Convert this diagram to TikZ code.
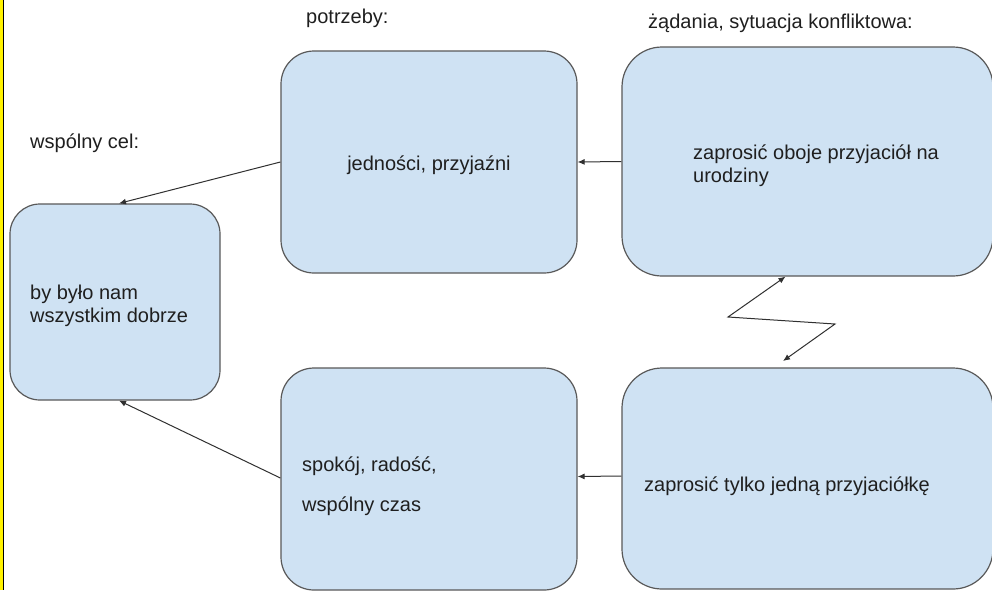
\documentclass[tikz,border=0pt]{standalone}
\usepackage{fontspec}
\setmainfont{Liberation Sans}
\usetikzlibrary{arrows.meta}
\definecolor{boxfill}{HTML}{CFE2F3}
\definecolor{boxline}{HTML}{595959}
\definecolor{inkline}{HTML}{303030}
\definecolor{ink}{HTML}{1F1F1F}
\tikzset{
  card/.style={draw=boxline, line width=1.2pt, fill=boxfill, rounded corners=#1,
    rectangle, inner sep=0pt},
  card/.default=32pt,
  label/.style={inner sep=0pt, text=ink, font=\fontsize{20}{23}\selectfont},
  link/.style={draw=inkline, line width=1pt, -{Latex[length=7pt,width=6pt]}},
  bolt/.style={draw=inkline, line width=1pt, {Latex[length=7pt,width=6pt]}-{Latex[length=7pt,width=6pt]}},
}
\begin{document}
\begin{tikzpicture}[x=1pt, y=-1pt]
  \useasboundingbox (0,0) rectangle (992,590);
  \fill[white] (0,0) rectangle (992,590);
  % left margin rule
  \fill[yellow] (0,0) rectangle (2.5,590);
  \draw[black, line width=1pt] (3,0) -- (3,590);

  % boxes
  \node[card=30pt, minimum width=210pt, minimum height=196pt] (goal) at (115,302) {};
  \node[card=33pt, minimum width=296pt, minimum height=222pt] (needA) at (429,162) {};
  \node[card=40pt, minimum width=371pt, minimum height=229pt] (wantA) at (807.5,161.5) {};
  \node[card=33pt, minimum width=296pt, minimum height=222pt] (needB) at (429,479) {};
  \node[card=40pt, minimum width=371pt, minimum height=221pt] (wantB) at (807.5,478.5) {};

  % headings
  \node[label, anchor=base west] (hNeed) at (306,23) {potrzeby:};
  \node[label, anchor=base west] (hWant) at (648,28) {żądania, sytuacja konfliktowa:};
  \node[label, anchor=base west] (hGoal) at (30,148) {wspólny cel:};

  % box texts
  \node[label, anchor=base] (tNeedA) at (429,170) {jedności, przyjaźni};
  \node[label, anchor=base west] (tWantA1) at (693,159) {zaprosić oboje przyjaciół na};
  \node[label, anchor=base west] (tWantA2) at (693,182) {urodziny};
  \node[label, anchor=base west] (tGoal1) at (30,299) {by było nam};
  \node[label, anchor=base west] (tGoal2) at (30,322) {wszystkim dobrze};
  \node[label, anchor=base west] (tNeedB1) at (302,471) {spokój, radość,};
  \node[label, anchor=base west] (tNeedB2) at (302,511) {wspólny czas};
  \node[label, anchor=base west] (tWantB) at (644,491) {zaprosić tylko jedną przyjaciółkę};

  % connectors
  \draw[link] (needA.west) -- ([xshift=4pt]goal.north);
  \draw[link] (wantA.west) -- (needA.east);
  \draw[link] ([yshift=1pt]needB.west) -- ([xshift=4pt]goal.south);
  \draw[link] ([yshift=2.5pt]wantB.west) -- ([yshift=2.5pt]needB.east);

  % conflict zigzag
  \coordinate (zA) at (728,317);
  \coordinate (zB) at (835,324);
  \coordinate (zEnd) at (783,361);
  \draw[bolt] ([xshift=-22pt]wantA.south) -- (zA) -- (zB) -- (zEnd);
\end{tikzpicture}
\end{document}
